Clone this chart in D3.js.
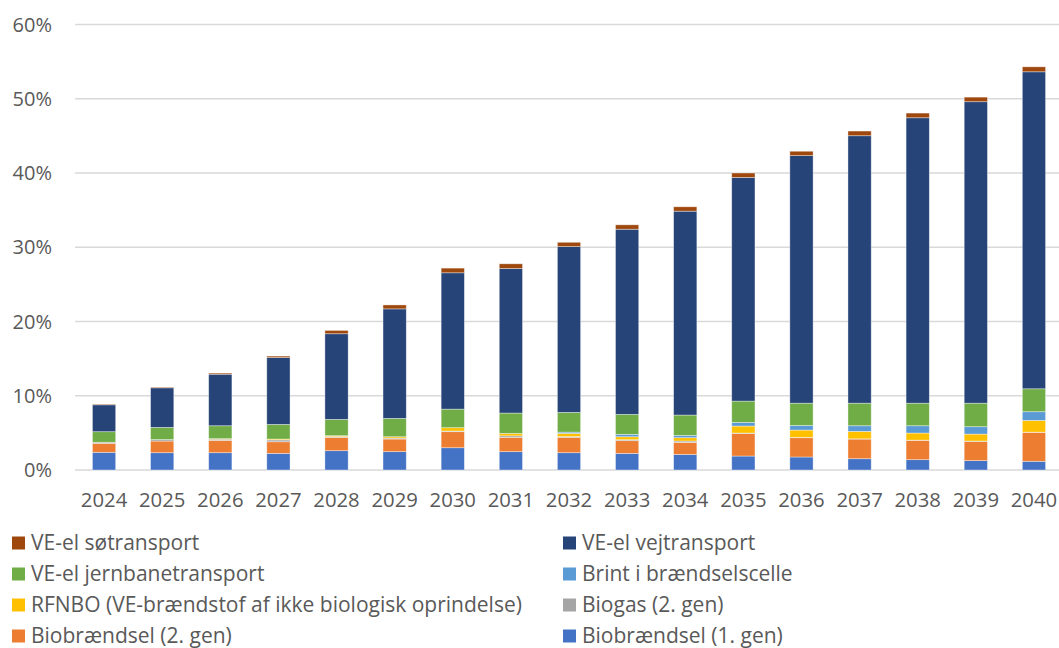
<!DOCTYPE html>
<html><head><meta charset="utf-8">
<script src="https://cdn.jsdelivr.net/npm/d3@7"></script>
<style>
html,body{margin:0;padding:0;background:#fff;}
svg{display:block;font-family:"Open Sans",Calibri,sans-serif;}
</style></head>
<body>
<svg id="chart" width="1059" height="648"></svg>
<script>
const years = ["2024","2025","2026","2027","2028","2029","2030","2031","2032","2033","2034","2035","2036","2037","2038","2039","2040"];
const bio1   = [2.38,2.33,2.33,2.24,2.60,2.47,3.00,2.47,2.33,2.24,2.10,1.88,1.75,1.52,1.39,1.26,1.17];
const bio2   = [1.21,1.57,1.66,1.56,1.79,1.70,2.16,1.93,2.07,1.71,1.62,3.05,2.60,2.65,2.60,2.60,3.90];
const biogas = [0.15,0.20,0.16,0.25,0.11,0.13,0.09,0.20,0.10,0.13,0.18,0.05,0.05,0.03,0.03,0.04,0.03];
const rfnbo  = [0.00,0.00,0.07,0.12,0.12,0.18,0.45,0.33,0.43,0.40,0.45,0.94,0.98,1.00,0.96,0.94,1.58];
const brint  = [0.00,0.00,0.00,0.00,0.00,0.00,0.00,0.00,0.17,0.32,0.31,0.49,0.62,0.76,0.98,0.99,1.17];
const jern   = [1.42,1.64,1.74,1.97,2.20,2.47,2.50,2.74,2.66,2.69,2.74,2.87,3.00,3.04,3.04,3.17,3.09];
const vej    = [3.62,5.33,6.94,9.00,11.53,14.75,18.36,19.47,22.33,24.94,27.46,30.13,33.34,36.02,38.44,40.60,42.69];
const soe    = [0.10,0.10,0.15,0.20,0.45,0.53,0.63,0.63,0.58,0.59,0.59,0.59,0.59,0.63,0.63,0.62,0.67];
const yTicks = [0,10,20,30,40,50,60];

const seriesNames = ["Biobrændsel (1. gen)","Biobrændsel (2. gen)","Biogas (2. gen)","RFNBO (VE-brændstof af ikke biologisk oprindelse)","Brint i brændselscelle","VE-el jernbanetransport","VE-el vejtransport","VE-el søtransport"];
const seriesVals = [bio1,bio2,biogas,rfnbo,brint,jern,vej,soe];
const colors = ["#4472C4","#ED7D31","#A5A5A5","#FFC000","#5B9BD5","#70AD47","#264478","#9E480E"];
const keys = seriesNames.map((n,i)=>"s"+i);

const table = years.map((y,j)=>{const o={year:y}; keys.forEach((k,i)=>o[k]=seriesVals[i][j]); return o;});
const stacked = d3.stack().keys(keys)(table);

const svg = d3.select("#chart");
const x = d3.scaleBand().domain(years).range([75,1063]).paddingInner(0.6).paddingOuter(0.3);
const y = d3.scaleLinear().domain([0,60]).range([470,24.5]);

// gridlines
svg.append("g").selectAll("line").data(yTicks).join("line")
  .attr("x1",75).attr("x2",1059)
  .attr("y1",d=>y(d)).attr("y2",d=>y(d))
  .attr("stroke","#d9d9d9").attr("stroke-width",1.5);

// y labels
svg.append("g").selectAll("text").data(yTicks).join("text")
  .attr("x",52).attr("y",d=>y(d)).attr("dy","0.35em")
  .attr("text-anchor","end").attr("fill","#595959").attr("font-size",20)
  .text(d=>d+"%");

// bars
svg.append("g").selectAll("g").data(stacked).join("g")
  .attr("fill",(d,i)=>colors[i])
  .selectAll("rect").data(d=>d).join("rect")
  .attr("x",d=>x(d.data.year)).attr("width",x.bandwidth())
  .attr("y",d=>y(d[1])).attr("height",d=>Math.max(0,y(d[0])-y(d[1])))
  .attr("stroke","#ffffff").attr("stroke-opacity",0.5).attr("stroke-width",0.75);

// x labels
svg.append("g").selectAll("text").data(years).join("text")
  .attr("x",d=>x(d)+x.bandwidth()/2).attr("y",500).attr("dy","0.35em")
  .attr("text-anchor","middle").attr("fill","#595959").attr("font-size",20.3)
  .text(d=>d);

// legend
const legendOrder = [7,6,5,4,3,2,1,0];
const leg = svg.append("g").selectAll("g").data(legendOrder).join("g")
  .attr("transform",(d,i)=>`translate(${i%2===0?12:563},${543+Math.floor(i/2)*31})`);
leg.append("rect").attr("x",0).attr("y",-6.5).attr("width",13).attr("height",13).attr("fill",d=>colors[d]);
leg.append("text").attr("x",19).attr("y",0).attr("dy","0.35em")
  .attr("fill","#595959").attr("font-size",21).text(d=>seriesNames[d]);
</script>
</body></html>
